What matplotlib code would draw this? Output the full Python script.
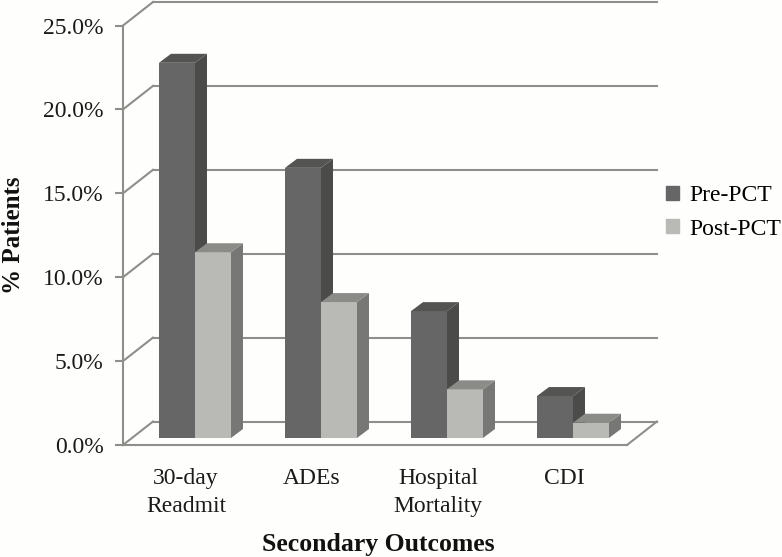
import matplotlib
matplotlib.use('Agg')
import matplotlib.pyplot as plt
from matplotlib.patches import Patch, Polygon

categories = ['30-day\nReadmit', 'ADEs', 'Hospital\nMortality', 'CDI']
pre_pct = [22.36, 16.1, 7.56, 2.5]
post_pct = [11.07, 8.1, 2.9, 0.91]
yticks = [0, 5, 10, 15, 20, 25]
yticklabels = ['0.0%', '5.0%', '10.0%', '15.0%', '20.0%', '25.0%']

W, H = 782, 557
# pixel box of the front plane
left, right, bottom, top = 123, 627, 445, 25.5
px_x = (right - left) / 4
px_y = (bottom - top) / 25

# depth offsets, data units
wall_dx, wall_dy = 30 / px_x, 23.5 / px_y
plane_dx, plane_dy = 9 / px_x, 7 / px_y
bar_dx, bar_dy = 12 / px_x, 9 / px_y
bar_w = 36 / px_x

axis_col = '#8e8f8a'
bg = '#fefefc'
pre_cols = ('#666666', '#4b4b49', '#545452')
post_cols = ('#b9bab5', '#777876', '#8b8c88')

plt.rcParams['font.family'] = ['Liberation Serif', 'DejaVu Serif']
plt.rcParams['font.size'] = 17


def draw_bar(ax, x0, val, cols):
    x = x0 + plane_dx
    y = plane_dy
    ax.bar(x, val, bar_w, bottom=y, align='edge', color=cols[0], linewidth=0, zorder=3)
    side = [(x + bar_w, y), (x + bar_w + bar_dx, y + bar_dy),
            (x + bar_w + bar_dx, y + val + bar_dy), (x + bar_w, y + val)]
    roof = [(x, y + val), (x + bar_dx, y + val + bar_dy),
            (x + bar_w + bar_dx, y + val + bar_dy), (x + bar_w, y + val)]
    ax.add_patch(Polygon(side, closed=True, fc=cols[1], lw=0, zorder=3))
    ax.add_patch(Polygon(roof, closed=True, fc=cols[2], lw=0, zorder=3))


def main():
    fig = plt.figure(figsize=(W / 100, H / 100), dpi=100, facecolor=bg)
    ax = fig.add_axes([left / W, 1 - bottom / H, (right - left) / W, (bottom - top) / H])
    ax.set_facecolor('none')

    # back wall lines and the diagonals running to the front plane
    for v in yticks:
        ax.plot([0, wall_dx], [v, v + wall_dy], color=axis_col, lw=1.5, clip_on=False, zorder=1)
        ax.plot([wall_dx, 4 + wall_dx], [v + wall_dy, v + wall_dy],
                color=axis_col, lw=1.5, clip_on=False, zorder=1)
    ax.plot([4, 4 + wall_dx], [0, wall_dy], color=axis_col, lw=1.5, clip_on=False, zorder=1)

    for i in range(len(categories)):
        x0 = i + 0.5
        draw_bar(ax, x0 - bar_w, pre_pct[i], pre_cols)
        draw_bar(ax, x0, post_pct[i], post_cols)

    ax.set_xlim(0, 4)
    ax.set_ylim(0, 25)
    ax.set_xticks([i + 0.5 for i in range(4)])
    ax.set_xticklabels(categories, color='#1a1a1a', linespacing=1.45)
    ax.set_yticks(yticks)
    ax.set_yticklabels(yticklabels, color='#1a1a1a')
    ax.tick_params(axis='x', length=0, pad=16.5)
    ax.tick_params(axis='y', length=6, width=1.5, color=axis_col, pad=8)

    for s in ['top', 'right']:
        ax.spines[s].set_visible(False)
    for s in ['left', 'bottom']:
        ax.spines[s].set_color(axis_col)
        ax.spines[s].set_linewidth(1.5)

    fig.text(378 / W, 1 - 545 / H, 'Secondary Outcomes', fontweight='bold',
             fontsize=18.5, ha='center', va='center', color='#111111')
    fig.text(13 / W, 1 - 235 / H, '% Patients', fontweight='bold', fontsize=18,
             rotation=90, ha='center', va='center', color='#111111')

    handles = [Patch(color=pre_cols[0], label='Pre-PCT'),
               Patch(color=post_cols[0], label='Post-PCT')]
    fig.legend(handles=handles, loc='center left', bbox_to_anchor=(666 / W, 1 - 212.5 / H),
               frameon=False, handlelength=0.55, handleheight=0.55,
               handletextpad=0.42, labelspacing=0.52, borderpad=0, borderaxespad=0)

    fig.savefig('out.png', dpi=100, facecolor=bg)


if __name__ == '__main__':
    main()
